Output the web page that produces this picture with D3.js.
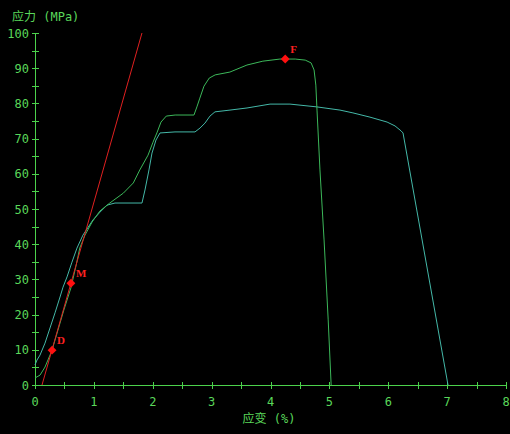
<!DOCTYPE html>
<html><head><meta charset="utf-8">
<script src="https://d3js.org/d3.v7.min.js"></script>
<style>html,body{margin:0;padding:0;background:#000;}svg{display:block;}</style>
</head><body>
<script>
const xTicks = [0,1,2,3,4,5,6,7,8];
const yTicks = [0,10,20,30,40,50,60,70,80,90,100];
const yTitle = "应力 (MPa)";
const xTitle = "应变 (%)";
const greenCurve = [[0,2.0],[0.085,2.8],[0.17,5.1],[0.255,8.5],[0.29,9.9],[0.39,15.6],[0.49,21.3],[0.61,27.6],[0.70,34.1],[0.76,38.9],[0.85,42.6],[0.97,46.3],[1.10,49.4],[1.27,51.7],[1.50,54.5],[1.67,57.4],[1.78,61.1],[1.92,65.3],[2.00,68.8],[2.07,71.6],[2.14,74.7],[2.23,76.4],[2.38,76.7],[2.70,76.7],[2.75,79.0],[2.80,81.5],[2.87,84.9],[2.96,87.2],[3.06,88.1],[3.31,88.9],[3.60,90.9],[3.87,92.0],[4.16,92.6],[4.42,92.6],[4.59,92.3],[4.69,91.5],[4.74,89.5],[4.77,85.2],[4.79,78.1],[4.84,61.1],[4.91,41.2],[4.98,18.5],[5.03,0]];
const cyanCurve = [[0,5.7],[0.034,7.1],[0.085,8.5],[0.17,11.9],[0.255,16.2],[0.34,20.5],[0.425,25.0],[0.476,27.8],[0.544,30.7],[0.628,34.9],[0.713,38.9],[0.815,42.6],[0.985,46.9],[1.104,49.1],[1.223,51.1],[1.359,51.7],[1.817,51.7],[1.868,55.4],[1.936,61.1],[1.987,65.9],[2.055,69.6],[2.123,71.6],[2.378,71.9],[2.718,71.9],[2.803,73.0],[2.887,74.4],[2.972,76.4],[3.057,77.6],[3.312,78.1],[3.601,78.7],[3.992,79.8],[4.331,79.8],[4.79,79.0],[5.18,78.1],[5.40,77.3],[5.69,76.1],[5.98,74.7],[6.115,73.6],[6.217,72.2],[6.251,71.6],[7.015,0]];
const redLine = [[0.119,0],[1.817,100]];
const markerNames = ["D","M","F"];
const markerX = [0.29,0.61,4.25];
const markerY = [9.9,28.9,92.6];

const W=510,H=434;
const svg=d3.select("body").append("svg").attr("width",W).attr("height",H).style("background","#000");
svg.append("rect").attr("width",W).attr("height",H).attr("fill","#000");
const x=d3.scaleLinear().domain([0,8]).range([35,506]);
const y=d3.scaleLinear().domain([0,100]).range([385,33]);
const axisColor="#4cd24c", textColor="#5ad75a";
const numFont="'DejaVu Sans Mono', monospace";
const titleFont="'DejaVu Sans Mono', 'Noto Sans CJK SC', monospace";

// y axis
const ya=svg.append("g");
ya.append("line").attr("x1",x(0)+0.5).attr("x2",x(0)+0.5).attr("y1",y(100)).attr("y2",y(0)).attr("stroke",axisColor);
d3.range(0,101,5).forEach(v=>{
  ya.append("line").attr("x1",x(0)-3).attr("x2",x(0)+4).attr("y1",Math.round(y(v))+0.5).attr("y2",Math.round(y(v))+0.5).attr("stroke",axisColor);
});
ya.selectAll("text").data(yTicks).join("text").attr("x",29).attr("y",d=>y(d)+4.5).attr("text-anchor","end")
  .attr("fill",textColor).style("font-family",numFont).style("font-size","12px").text(d=>d);
// x axis
const xa=svg.append("g");
xa.append("line").attr("x1",x(0)).attr("x2",x(8)).attr("y1",y(0)+0.5).attr("y2",y(0)+0.5).attr("stroke",axisColor);
d3.range(0,8.01,0.5).forEach(v=>{
  xa.append("line").attr("x1",Math.round(x(v))+0.5).attr("x2",Math.round(x(v))+0.5).attr("y1",y(0)-3).attr("y2",y(0)+4).attr("stroke",axisColor);
});
xa.selectAll("text").data(xTicks).join("text").attr("x",d=>x(d)).attr("y",406).attr("text-anchor","middle")
  .attr("fill",textColor).style("font-family",numFont).style("font-size","12px").text(d=>d);

svg.append("text").attr("x",12).attr("y",21).attr("fill",textColor).style("font-family",titleFont).style("font-size","12px").style("white-space","pre").text(yTitle);
svg.append("text").attr("x",269).attr("y",423).attr("text-anchor","middle").attr("fill",textColor).style("font-family",titleFont).style("font-size","12px").style("white-space","pre").text(xTitle);

const line=d3.line().x(d=>x(d[0])).y(d=>y(d[1]));
svg.append("path").attr("d",line(cyanCurve)).attr("fill","none").attr("stroke","#44b8a8").attr("stroke-width",1);
svg.append("path").attr("d",line(greenCurve)).attr("fill","none").attr("stroke","#3cb85a").attr("stroke-width",1);
svg.append("path").attr("d",line(redLine)).attr("fill","none").attr("stroke","#e02020").attr("stroke-width",1);

const sym=d3.symbol().type(d3.symbolDiamond2).size(50);
markerNames.forEach((n,i)=>{
  svg.append("path").attr("d",sym()).attr("transform",`translate(${x(markerX[i])},${y(markerY[i])})`).attr("fill","#ff1010");
  svg.append("text").attr("x",x(markerX[i])+5).attr("y",y(markerY[i])-6).attr("fill","#ff2020")
    .style("font-family","'Liberation Serif', serif").style("font-size","11px").style("font-weight","bold").text(n);
});
</script>
</body></html>
